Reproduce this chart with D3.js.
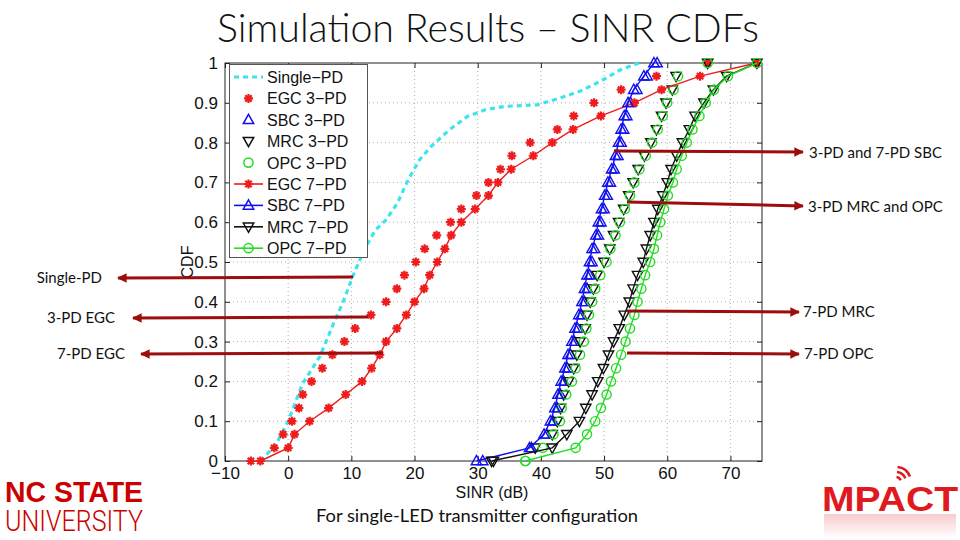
<!DOCTYPE html>
<html>
<head>
<meta charset="utf-8">
<script src="https://cdn.jsdelivr.net/npm/d3@7"></script>
<style>
body { margin: 0; background: #fff; }
svg { display: block; }
</style>
</head>
<body>
<svg width="960" height="540"></svg>
<script>
// CDF levels shared by the 3-PD and 7-PD curves (31 steps)
const cdfLevels = [0, 0.033, 0.067, 0.1, 0.133, 0.167, 0.2, 0.233, 0.267, 0.3, 0.333,
  0.367, 0.4, 0.433, 0.467, 0.5, 0.533, 0.567, 0.6, 0.633, 0.667, 0.7, 0.733, 0.767,
  0.8, 0.833, 0.867, 0.9, 0.933, 0.967, 1];

// Single-PD curve (dashed, no markers)
const singleX = [-4.4, -2, 0, 2.3, 5, 7.3, 8.7, 10.2, 12, 13.8, 15.5, 17.3, 19, 20.8, 22.6,
  25.5, 28.4, 31.3, 34.3, 39.5, 43, 46.2, 49.4, 52.6, 55.5];
const singleY = [0, 0.04, 0.1, 0.195, 0.262, 0.35, 0.4, 0.463, 0.53, 0.58, 0.606, 0.648,
  0.707, 0.757, 0.79, 0.832, 0.866, 0.883, 0.891, 0.895, 0.912, 0.929, 0.954, 0.983, 1];

// SINR (dB) at each cdf level
const egc3 = [-5.9, -2.2, -0.8, 0.6, 1.7, 2.3, 3.7, 5.4, 7.0, 8.9, 10.6, 13.1, 15.5, 17.2,
  18.4, 20.2, 21.6, 23.5, 25.7, 27.4, 29.8, 31.7, 33.6, 35.4, 38.3, 42.6, 45.2, 48.4,
  52.7, 58.3, 66.4];
const sbc3 = [30.8, 38.5, 40.9, 41.9, 42.6, 43.1, 43.6, 44.2, 44.7, 45.3, 45.8, 46.4, 46.9,
  47.3, 47.7, 48.1, 48.5, 49.1, 49.5, 50.0, 50.5, 51.0, 51.6, 52.2, 52.7, 53.1, 53.6,
  54.2, 55.2, 56.8, 58.4];
const mrc3 = [32.5, 39.1, 41.8, 42.6, 43.1, 43.6, 44.4, 45.2, 45.7, 46.2, 47.0, 47.3, 47.8,
  48.3, 48.9, 50.0, 50.9, 51.5, 52.3, 53.1, 53.9, 54.6, 55.4, 56.4, 57.4, 58.3, 59.1,
  59.8, 60.8, 61.4, 66.4];
const opc3 = [37.6, 40.3, 42.0, 43.0, 43.3, 44.0, 44.9, 45.5, 46.2, 46.8, 47.2, 47.6, 48.1,
  48.6, 49.4, 50.4, 51.0, 51.8, 52.5, 53.3, 54.1, 54.8, 55.6, 56.6, 57.6, 58.5, 59.3,
  60.0, 61.0, 61.7, 66.4];
const egc7 = [-4.4, 0, 1.0, 3.4, 6.4, 9.1, 11.7, 13.2, 14.5, 15.5, 17.2, 18.7, 20.0, 21.5,
  22.4, 23.6, 24.8, 25.8, 27.4, 29.6, 31.7, 33.2, 35.3, 38.8, 41.8, 45.1, 49.5, 54.8,
  59.1, 65.2, 74.1];
const sbc7 = [29.8, 38.2, 40.5, 41.5, 42.2, 42.7, 43.2, 43.8, 44.3, 44.9, 45.4, 46.0, 46.5,
  46.9, 47.3, 47.7, 48.1, 48.7, 49.1, 49.6, 50.1, 50.6, 51.2, 51.8, 52.3, 52.7, 53.2,
  53.8, 54.7, 56.3, 57.9];
const mrc7 = [32.2, 41.8, 44.1, 46.1, 47.1, 48.1, 49.0, 49.9, 50.7, 51.5, 52.4, 53.2, 54.0,
  54.6, 55.3, 56.2, 56.7, 57.3, 57.9, 58.5, 59.3, 60.0, 60.6, 61.5, 62.4, 63.5, 64.4,
  65.8, 67.3, 69.4, 74.2];
const opc7 = [37.5, 45.5, 47.3, 48.6, 49.5, 50.4, 51.1, 51.9, 52.7, 53.4, 54.1, 54.8, 55.3,
  55.9, 56.5, 57.3, 57.9, 58.4, 58.9, 59.5, 60.1, 60.9, 61.5, 62.3, 63.1, 64.0, 65.1,
  66.1, 67.4, 69.6, 74.2];

const xTicks = [-10, 0, 10, 20, 30, 40, 50, 60, 70];
const yTicks = [0, 0.1, 0.2, 0.3, 0.4, 0.5, 0.6, 0.7, 0.8, 0.9, 1];
const legendNames = ["Single\u2212PD", "EGC 3\u2212PD", "SBC 3\u2212PD", "MRC 3\u2212PD", "OPC 3\u2212PD",
  "EGC 7\u2212PD", "SBC 7\u2212PD", "MRC 7\u2212PD", "OPC 7\u2212PD"];

const RED = "#ee1c1c", BLUE = "#1010f0", BLACK = "#111", GREEN = "#22dd22", CYAN = "#3ce4ec";
const ARROW = "#9c0e0e";

// marker shapes (outline paths centred on the point)
const markerPath = {
  star: "M-4.5,0H4.5M0,-4.5V4.5M-3.2,-3.2L3.2,3.2M-3.2,3.2L3.2,-3.2",
  up: "M0,-5.5L5.2,3.8L-5.2,3.8Z",
  down: "M0,5.5L5.2,-3.8L-5.2,-3.8Z",
  circle: "M4.6,0A4.6,4.6 0 1,1 -4.6,0A4.6,4.6 0 1,1 4.6,0Z"
};

const series = [
  {name: legendNames[0], xs: singleX, ys: singleY, color: CYAN, line: "dash", marker: null},
  {name: legendNames[1], xs: egc3, ys: cdfLevels, color: RED, line: null, marker: "star"},
  {name: legendNames[2], xs: sbc3, ys: cdfLevels, color: BLUE, line: null, marker: "up"},
  {name: legendNames[3], xs: mrc3, ys: cdfLevels, color: BLACK, line: null, marker: "down"},
  {name: legendNames[4], xs: opc3, ys: cdfLevels, color: GREEN, line: null, marker: "circle"},
  {name: legendNames[5], xs: egc7, ys: cdfLevels, color: RED, line: "solid", marker: "star"},
  {name: legendNames[6], xs: sbc7, ys: cdfLevels, color: BLUE, line: "solid", marker: "up"},
  {name: legendNames[7], xs: mrc7, ys: cdfLevels, color: BLACK, line: "solid", marker: "down"},
  {name: legendNames[8], xs: opc7, ys: cdfLevels, color: GREEN, line: "solid", marker: "circle"}
];

const svg = d3.select("svg");
const pLeft = 225, pRight = 762, pTop = 63, pBottom = 461;

const xScale = d3.scaleLinear().domain([-10, 75]).range([pLeft, pRight]);
const yScale = d3.scaleLinear().domain([0, 1]).range([pBottom, pTop]);

// title
svg.append("text")
  .attr("x", 217).attr("y", 42)
  .attr("textLength", 542).attr("lengthAdjust", "spacingAndGlyphs")
  .style("font-family", "Lato, 'Open Sans', sans-serif").style("font-weight", 300)
  .style("font-size", "40px").attr("fill", "#111")
  .text("Simulation Results \u2013 SINR CDFs");

const g = svg.append("g");

// dotted grid
g.selectAll(".gx").data(xTicks.slice(1)).enter().append("line")
  .attr("x1", d => xScale(d)).attr("x2", d => xScale(d))
  .attr("y1", pTop).attr("y2", pBottom)
  .attr("stroke", "#9a9a9a").attr("stroke-width", 0.8).attr("stroke-dasharray", "1,3");
g.selectAll(".gy").data(yTicks.slice(1, -1)).enter().append("line")
  .attr("x1", pLeft).attr("x2", pRight)
  .attr("y1", d => yScale(d)).attr("y2", d => yScale(d))
  .attr("stroke", "#9a9a9a").attr("stroke-width", 0.8).attr("stroke-dasharray", "1,3");

// axes
const axFont = "'Liberation Sans', Arial, Helvetica, sans-serif";
g.append("g").attr("transform", "translate(0," + pBottom + ")")
  .call(d3.axisBottom(xScale).tickValues(xTicks).tickSize(-5).tickPadding(6)
    .tickFormat(d => d < 0 ? "\u2212" + Math.abs(d) : d));
g.append("g").attr("transform", "translate(" + pLeft + ",0)")
  .call(d3.axisLeft(yScale).tickValues(yTicks).tickSize(-5).tickPadding(7)
    .tickFormat(d => d === 0 ? "0" : d === 1 ? "1" : d3.format(".1f")(d)));
g.append("g").attr("transform", "translate(0," + pTop + ")")
  .call(d3.axisTop(xScale).tickValues(xTicks).tickSize(-5).tickFormat(""));
g.append("g").attr("transform", "translate(" + pRight + ",0)")
  .call(d3.axisRight(yScale).tickValues(yTicks).tickSize(-5).tickFormat(""));
g.selectAll(".domain").remove();
g.selectAll(".tick line").attr("stroke", "#222");
g.selectAll(".tick text").style("font-family", axFont).style("font-size", "17px").attr("fill", "#111");

g.append("rect").attr("x", pLeft).attr("y", pTop)
  .attr("width", pRight - pLeft).attr("height", pBottom - pTop)
  .attr("fill", "none").attr("stroke", "#222").attr("stroke-width", 1);

g.append("text").attr("x", 492).attr("y", 498).attr("text-anchor", "middle")
  .style("font-family", axFont).style("font-size", "16px").attr("fill", "#111")
  .text("SINR (dB)");
g.append("text").attr("transform", "translate(193,262) rotate(-90)").attr("text-anchor", "middle")
  .style("font-family", axFont).style("font-size", "16px").attr("fill", "#111")
  .text("CDF");

// curves
const line = d3.line().x(d => xScale(d[0])).y(d => yScale(d[1]));
const plot = g.append("g");
series.forEach(function(s) {
  const pts = s.xs.map((x, i) => [x, s.ys[i]]);
  if (s.line) {
    plot.append("path").attr("d", line(pts))
      .attr("fill", "none").attr("stroke", s.color)
      .attr("stroke-width", s.line === "dash" ? 3.2 : 1.4)
      .attr("stroke-dasharray", s.line === "dash" ? "5,4" : null);
  }
  if (s.marker) {
    plot.selectAll(null).data(pts).enter().append("path")
      .attr("d", markerPath[s.marker])
      .attr("transform", d => "translate(" + xScale(d[0]) + "," + yScale(d[1]) + ")")
      .attr("fill", "none").attr("stroke", s.color)
      .attr("stroke-width", s.marker === "star" ? 2.2 : 1.4);
  }
});

// legend
const leg = svg.append("g");
leg.append("rect").attr("x", 229.5).attr("y", 64.5).attr("width", 138).attr("height", 193)
  .attr("fill", "#fff").attr("stroke", "#555").attr("stroke-width", 1);
series.forEach(function(s, i) {
  const ly = 77 + i * 21.4;
  if (s.line) {
    leg.append("line").attr("x1", 234).attr("x2", 263).attr("y1", ly).attr("y2", ly)
      .attr("stroke", s.color).attr("stroke-width", s.line === "dash" ? 3.2 : 1.6)
      .attr("stroke-dasharray", s.line === "dash" ? "5,4" : null);
  }
  if (s.marker) {
    leg.append("path").attr("d", markerPath[s.marker])
      .attr("transform", "translate(248.5," + ly + ")")
      .attr("fill", "none").attr("stroke", s.color)
      .attr("stroke-width", s.marker === "star" ? 2.2 : 1.5);
  }
  leg.append("text").attr("x", 267).attr("y", ly + 6)
    .style("font-family", axFont).style("font-size", "16px").attr("fill", "#111")
    .text(s.name);
});

// annotation arrows (slide overlay)
const defs = svg.append("defs");
defs.append("marker")
  .attr("id", "head").attr("viewBox", "0 0 10 10").attr("refX", 9).attr("refY", 5)
  .attr("markerWidth", 4).attr("markerHeight", 3.2).attr("orient", "auto")
  .append("path").attr("d", "M0,0L10,5L0,10Z").attr("fill", ARROW);

const notes = [
  {text: "3-PD and 7-PD SBC", x1: 614, y1: 151, x2: 803, y2: 152, tx: 809, ty: 158, anchor: "start"},
  {text: "3-PD MRC and OPC", x1: 627, y1: 202, x2: 803, y2: 206, tx: 808, ty: 212, anchor: "start"},
  {text: "7-PD MRC", x1: 627, y1: 311, x2: 799, y2: 312, tx: 803, ty: 317, anchor: "start"},
  {text: "7-PD OPC", x1: 627, y1: 353, x2: 799, y2: 354, tx: 804, ty: 359, anchor: "start"},
  {text: "Single-PD", x1: 353, y1: 277, x2: 118, y2: 278, tx: 102, ty: 283, anchor: "end"},
  {text: "3-PD EGC", x1: 368, y1: 317, x2: 133, y2: 318, tx: 115, ty: 323, anchor: "end"},
  {text: "7-PD EGC", x1: 383, y1: 353, x2: 141, y2: 354, tx: 125, ty: 359, anchor: "end"}
];
notes.forEach(function(n) {
  svg.append("line").attr("x1", n.x1).attr("y1", n.y1).attr("x2", n.x2).attr("y2", n.y2)
    .attr("stroke", ARROW).attr("stroke-width", 3).attr("marker-end", "url(#head)");
  svg.append("text").attr("x", n.tx).attr("y", n.ty).attr("text-anchor", n.anchor)
    .style("font-family", "Lato, 'Open Sans', sans-serif").style("font-size", "15px")
    .attr("fill", "#111").text(n.text);
});

// caption
svg.append("text").attr("x", 316).attr("y", 522)
  .attr("textLength", 322).attr("lengthAdjust", "spacingAndGlyphs")
  .style("font-family", "Lato, 'Open Sans', sans-serif").style("font-size", "17px")
  .attr("fill", "#111").text("For single-LED transmitter configuration");

// NC State logo
svg.append("text").attr("x", 5).attr("y", 502)
  .attr("textLength", 138).attr("lengthAdjust", "spacingAndGlyphs")
  .style("font-family", "'Liberation Sans Narrow', 'Liberation Sans', sans-serif")
  .style("font-weight", 700).style("font-size", "29px").attr("fill", "#cc0000")
  .text("NC STATE");
svg.append("text").attr("x", 5).attr("y", 531)
  .attr("textLength", 138).attr("lengthAdjust", "spacingAndGlyphs")
  .style("font-family", "Roboto, 'Liberation Sans Narrow', sans-serif")
  .style("font-weight", 300).style("font-size", "29px").attr("fill", "#cc0000")
  .text("UNIVERSITY");

// MPACT logo
const fade = defs.append("linearGradient").attr("id", "fade")
  .attr("x1", 0).attr("y1", 0).attr("x2", 0).attr("y2", 1);
fade.append("stop").attr("offset", 0).attr("stop-color", "#e0191f").attr("stop-opacity", 0.22);
fade.append("stop").attr("offset", 1).attr("stop-color", "#e0191f").attr("stop-opacity", 0);

const logo = svg.append("g");
logo.append("text").attr("x", 822).attr("y", 511)
  .attr("textLength", 136).attr("lengthAdjust", "spacingAndGlyphs")
  .style("font-family", "'Liberation Sans', sans-serif").style("font-weight", 700)
  .style("font-size", "35px").attr("fill", "#e0191f").text("MPACT");
// faint reflection under the logo
logo.append("rect").attr("x", 824).attr("y", 514).attr("width", 132).attr("height", 24)
  .attr("fill", "url(#fade)");
[5, 10, 15].forEach(function(r) {
  const arc = d3.arc().innerRadius(r - 1.3).outerRadius(r + 1.3)
    .startAngle(0.1).endAngle(1.2);
  logo.append("path").attr("d", arc()).attr("transform", "translate(896,482)")
    .attr("fill", "#e0191f");
});
</script>
</body>
</html>
